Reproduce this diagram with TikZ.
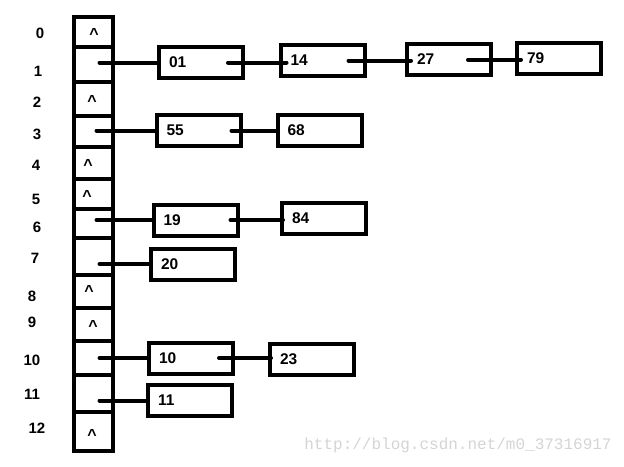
\documentclass[tikz,border=0pt]{standalone}
\usepackage{fontspec}
\setmainfont{Liberation Sans}
\setmonofont{Liberation Mono}
\usepackage{tikz}

\begin{document}
\begin{tikzpicture}[
  x=1pt, y=-1pt,
  cell/.style={draw, line width=4pt, minimum width=39pt, inner sep=0pt},
  elem/.style={draw, line width=4pt, minimum width=84pt, minimum height=31pt, text width=64pt, inner xsep=10pt, inner ysep=0pt, align=left, font=\fontsize{15.5}{18}\selectfont\bfseries},
  idx/.style={font=\fontsize{15}{18}\selectfont\bfseries, inner sep=0pt},
  hat/.style={font=\fontsize{16}{18}\selectfont\bfseries, inner sep=0pt},
  link/.style={line width=4pt, line cap=round},
  wmark/.style={font=\ttfamily\fontsize{16}{18}\selectfont, text=black!17, inner sep=0pt}
]
\useasboundingbox (0,0) rectangle (624,466);
\foreach \i/\t/\b/\lx/\ly in {0/17/47/40/33, 1/47/82/38/71, 2/82/116/37/102, 3/116/147/37/134, 4/147/179/36/165, 5/179/209/36/199, 6/209/238/37/227, 7/238/275/35/258, 8/275/308/32/296, 9/308/341/32/322, 10/341/375/32/360, 11/375/412/32/394, 12/412/451/37/428}{
  \pgfmathsetmacro\h{\b-\t}
  \node[cell, minimum height=\h pt] (c\i) at (93.5,{(\t+\b)/2}) {};
  \node[idx] (n\i) at (\lx,\ly) {\i};
}
\foreach \i/\x/\y in {0/94/34, 2/92/101, 4/88/165, 5/87/196, 8/89/291, 9/93/326, 12/92/435}
  \node[hat] (h\i) at (\x,\y) {\textasciicircum};

\node[elem] (e01) at (201,62.5) {01};
\node[elem] (e14) at (322.5,60.5) {14};
\node[elem] (e27) at (449,59.5) {27};
\node[elem] (e79) at (559,58.5) {79};
\node[elem] (e55) at (198.5,130.5) {55};
\node[elem] (e68) at (319.5,130.5) {68};
\node[elem] (e19) at (195.5,220) {19};
\node[elem] (e84) at (324,218.5) {84};
\node[elem] (e20) at (193,264) {20};
\node[elem] (e10) at (191,358) {10};
\node[elem] (e23) at (312,359.5) {23};
\node[elem] (e11) at (190,400.5) {11};

\draw[link] (c1.center |- e01.west) ++(6,0) -- (e01.west);
\draw[link] (c3.center |- e55.west) ++(3,0) -- (e55.west);
\draw[link] (c6.center |- e19.west) ++(3,0) -- (e19.west);
\draw[link] (c7.center |- e20.west) ++(6,0) -- (e20.west);
\draw[link] (c10.center |- e10.west) ++(6,0) -- (e10.west);
\draw[link] (c11.center |- e11.west) ++(6,0) -- (e11.west);

\draw[link] ([xshift=-17pt]e01.east) -- (e14.west |- e01.east) -- ++(8,0);
\draw[link] ([xshift=-18pt]e14.east) -- (e27.west |- e14.east) -- ++(6,0);
\draw[link] ([xshift=-25pt]e27.east) -- (e79.west |- e27.east) -- ++(6,0);
\draw[link] ([xshift=-11pt]e55.east) -- (e68.west);
\draw[link] ([xshift=-9pt]e19.east) -- (e84.west |- e19.east) -- ++(3,0);
\draw[link] ([xshift=-16pt]e10.east) -- (e23.west |- e10.east) -- ++(3,0);

\node[wmark] (url) at (458,445) {http://blog.csdn.net/m0\_37316917};
\end{tikzpicture}
\end{document}
